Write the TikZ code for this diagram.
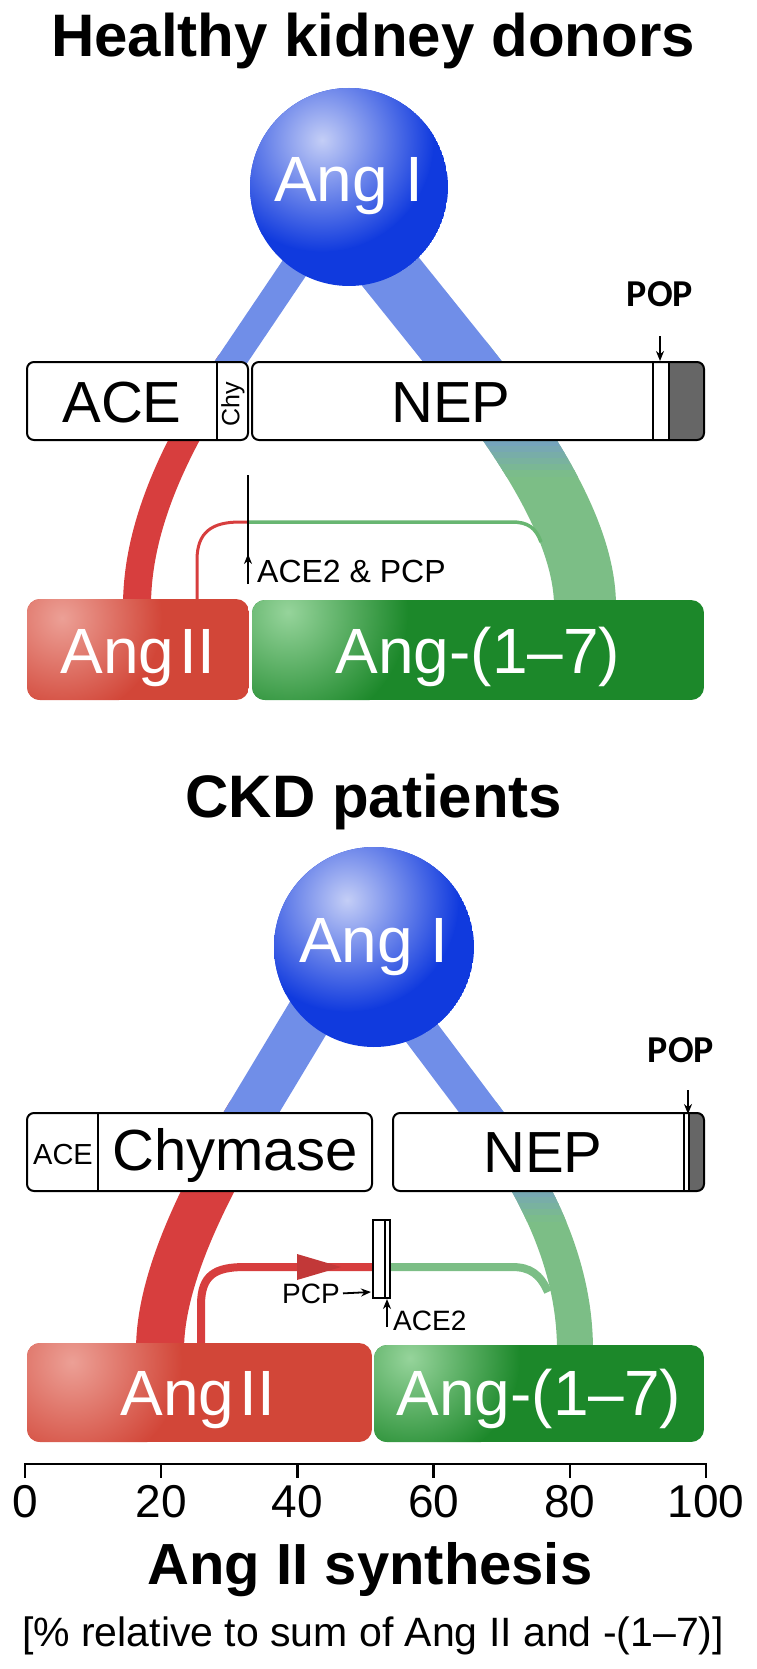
\documentclass[tikz,border=0pt]{standalone}
\usepackage{fontspec}
\setmainfont{Liberation Sans}
\newfontfamily\popfont{Carlito}
\usetikzlibrary{arrows.meta, math}

\definecolor{angblue}{RGB}{16,58,222}
\definecolor{angbluehl}{RGB}{196,206,246}
\definecolor{flowblue}{RGB}{112,142,232}
\definecolor{flowred}{RGB}{215,62,62}
\definecolor{flowgreen}{RGB}{124,190,134}
\definecolor{thingreen}{RGB}{104,182,114}
\definecolor{boxred}{RGB}{210,70,56}
\definecolor{boxredhl}{RGB}{236,160,150}
\definecolor{boxgreen}{RGB}{28,136,42}
\definecolor{boxgreenhl}{RGB}{150,212,155}
\definecolor{popgray}{RGB}{102,102,102}

\newcommand{\fsz}[1]{\fontsize{#1}{#1}\selectfont}

\tikzset{
	enzbox/.style={draw=black, line width=2pt, rounded corners=7pt},
	lbl/.style={inner sep=0pt, anchor=base},
	tipline/.style={line width=1.8pt, -{Stealth[length=10pt, width=8pt]}},
}

\begin{document}
\begin{tikzpicture}[x=1pt, y=-1pt]
	\useasboundingbox (0,0) rectangle (756,1669);
	
	\node[lbl, font=\bfseries\fsz{60}] (title1) at (373,57) {Healthy kidney donors};
	\node[lbl, font=\bfseries\fsz{60}] (title2) at (374,817) {CKD patients};
	
	% healthy kidney donors: flows
	\draw[line width=28pt, flowred] (231,362) .. controls (168,455) and (137,534) .. (137,606);
	\draw[line width=28pt, flowblue] (349,187) -- (231,362) -- (218,381);
	\draw[line width=62pt, flowgreen] (463,362) .. controls (544,464) and (585,544) .. (585,606);
	\foreach \i in {0,...,5} {
		\begin{scope}
			\clip (400,{440+6*\i}) rectangle (700,{446.5+6*\i});
			\draw[line width=62pt, flowgreen!\fpeval{45+10*\i}!flowblue] (463,362) .. controls (544,464) and (585,544) .. (585,606);
		\end{scope}
	}
	\draw[line width=62pt, flowblue] (357,230) -- (463,362) -- (478,381);
	\draw[line width=3pt, flowred] (197,606) -- (197,560) .. controls (197,532) and (212,522) .. (240,522) -- (249,522);
	\draw[line width=3.5pt, thingreen] (248,522) -- (512,522) .. controls (528,522) and (536,528) .. (541,542);
	
	\draw[enzbox, fill=white] (27,362) rectangle (248,440);
	\draw[line width=1.5pt] (217,362) -- (217,440);
	\begin{scope}
		\clip[rounded corners=7pt] (252,362) rectangle (704,440);
		\fill[white] (252,362) rectangle (704,440);
		\fill[popgray] (669,362) rectangle (704,440);
	\end{scope}
	\draw[enzbox] (252,362) rectangle (704,440);
	\draw[line width=1.5pt] (653,362) -- (653,440) (669,362) -- (669,440);
	\node[lbl, font=\fsz{58}] (ace1) at (122,422) {ACE};
	\node[font=\fsz{25}, rotate=90, inner sep=0pt] (chy1) at (233,404) {Chy};
	\node[lbl, font=\fsz{58}] (nep1) at (451,422) {NEP};
	
	\node[lbl, font=\popfont\bfseries\fsz{38}] (pop1) at (660,307) {POP};
	\coordinate (popend1) at (660,361);
	\draw[tipline] ([yshift=-29pt]pop1.south) -- (popend1);
	
	\coordinate (ace2top) at (248,475);
	\coordinate (ace2foot) at (248,584);
	\node[lbl, anchor=base west, font=\fsz{32}] (ace2pcp) at (257,582) {ACE2 \& PCP};
	\draw[line width=1.5pt] (ace2top) -- (ace2foot);
	\draw[tipline] (ace2foot) -- ++(0,-30);
	
	\begin{scope}
		\clip[rounded corners=13pt] (27,599) rectangle (249,700);
		\fill[boxred] (27,599) rectangle (249,700);
		\shade[inner color=boxredhl, outer color=boxred] (62,618) circle (100pt);
	\end{scope}
	\begin{scope}
		\clip[rounded corners=13pt] (252,600) rectangle (704,700);
		\fill[boxgreen] (252,600) rectangle (704,700);
		\shade[inner color=boxgreenhl, outer color=boxgreen] (288,612) circle (120pt);
	\end{scope}
	\node[lbl, font=\fsz{64}, text=white] (angII1) at (138,673) {Ang\hspace{0.08em}II};
	\node[lbl, font=\fsz{64}, text=white] (ang17a) at (478,673) {Ang-(1–7)};
	
	\begin{scope}
		\clip (349,187) circle (99pt);
		\fill[angblue] (349,187) circle (99pt);
		\shade[inner color=angbluehl, outer color=angblue] (322,140) circle (112pt);
	\end{scope}
	\node[lbl, font=\fsz{64}, text=white] (angI1) at (349,202) {Ang I};
	
	% CKD patients: flows
	\draw[line width=48pt, flowred] (251,1113) .. controls (190,1214) and (160,1291) .. (160,1350);
	\draw[line width=48pt, flowblue] (331,980) -- (251,1113) -- (239,1133);
	\draw[line width=36pt, flowgreen] (482,1113) .. controls (544,1196) and (575,1273) .. (575,1350);
	\foreach \i in {0,...,4} {
		\begin{scope}
			\clip (400,{1191+6*\i}) rectangle (700,{1197.5+6*\i});
			\draw[line width=36pt, flowgreen!\fpeval{55+10*\i}!flowblue] (482,1113) .. controls (544,1196) and (575,1273) .. (575,1350);
		\end{scope}
	}
	\draw[line width=36pt, flowblue] (382,980) -- (482,1113) -- (497,1133);
	\draw[line width=8pt, flowred] (201,1350) -- (201,1305) .. controls (201,1275) and (215,1267) .. (245,1267) -- (374,1267);
	\fill[flowred!90!black] (297,1254) -- (341,1267) -- (297,1280) -- cycle;
	\draw[line width=8pt, flowgreen] (389,1267) -- (512,1267) .. controls (530,1267) and (540,1274) .. (548,1292);
	
	\draw[enzbox, fill=white] (27,1113) rectangle (372,1191);
	\draw[line width=1.5pt] (98,1113) -- (98,1191);
	\begin{scope}
		\clip[rounded corners=7pt] (393,1113) rectangle (704,1191);
		\fill[white] (393,1113) rectangle (704,1191);
		\fill[popgray] (689,1113) rectangle (704,1191);
	\end{scope}
	\draw[enzbox] (393,1113) rectangle (704,1191);
	\draw[line width=1.2pt] (684,1113) -- (684,1191) (689,1113) -- (689,1191);
	\node[lbl, font=\fsz{29}] (ace2s) at (63,1164) {ACE};
	\node[lbl, font=\fsz{58}] (chym) at (235,1170) {Chymase};
	\node[lbl, font=\fsz{58}] (nep2) at (543,1172) {NEP};
	
	\node[lbl, font=\popfont\bfseries\fsz{38}] (pop2) at (681,1062) {POP};
	\coordinate (popend2) at (688,1114);
	\draw[tipline] (688,1090) -- (popend2);
	
	\draw[line width=1.5pt, fill=white] (373,1220) rectangle (390,1298);
	\draw[line width=1.2pt] (385,1220) -- (385,1298);
	\node[lbl, anchor=base east, font=\fsz{28}] (pcp) at (340,1303) {PCP};
	\coordinate (pcpend) at (371,1292);
	\draw[tipline] ([xshift=3pt]pcp.east) -- (pcpend);
	\node[lbl, anchor=base west, font=\fsz{28}] (ace2lbl) at (393,1330) {ACE2};
	\coordinate (ace2tip) at (387,1299);
	\draw[tipline] (387,1327) -- (ace2tip);
	
	\begin{scope}
		\clip[rounded corners=13pt] (27,1343) rectangle (372,1442);
		\fill[boxred] (27,1343) rectangle (372,1442);
		\shade[inner color=boxredhl, outer color=boxred] (72,1362) circle (110pt);
	\end{scope}
	\begin{scope}
		\clip[rounded corners=13pt] (374,1345) rectangle (704,1442);
		\fill[boxgreen] (374,1345) rectangle (704,1442);
		\shade[inner color=boxgreenhl, outer color=boxgreen] (410,1358) circle (110pt);
	\end{scope}
	\node[lbl, font=\fsz{64}, text=white] (angII2) at (198,1415) {Ang\hspace{0.08em}II};
	\node[lbl, font=\fsz{64}, text=white] (ang17b) at (539,1415) {Ang-(1–7)};
	
	\begin{scope}
		\clip (374,947) circle (100pt);
		\fill[angblue] (374,947) circle (100pt);
		\shade[inner color=angbluehl, outer color=angblue] (347,900) circle (112pt);
	\end{scope}
	\node[lbl, font=\fsz{64}, text=white] (angI2) at (374,962) {Ang I};
	
	% axis
	\draw[line width=2.5pt] (25,1464) -- (706,1464);
	\foreach \v in {0,20,...,100} {
		\draw[line width=2.5pt] ({25+6.81*\v},1463) -- ++(0,15);
		\node[lbl, font=\fsz{46}] (tick\v) at ({25+6.81*\v},1517) {\v};
	}
	\node[lbl, font=\bfseries\fsz{58}] (axtitle) at (370,1584) {Ang II synthesis};
	\node[lbl, font=\fsz{41}] (axnote) at (373,1646) {[\% relative to sum of Ang II and -(1–7)]};
\end{tikzpicture}
\end{document}
